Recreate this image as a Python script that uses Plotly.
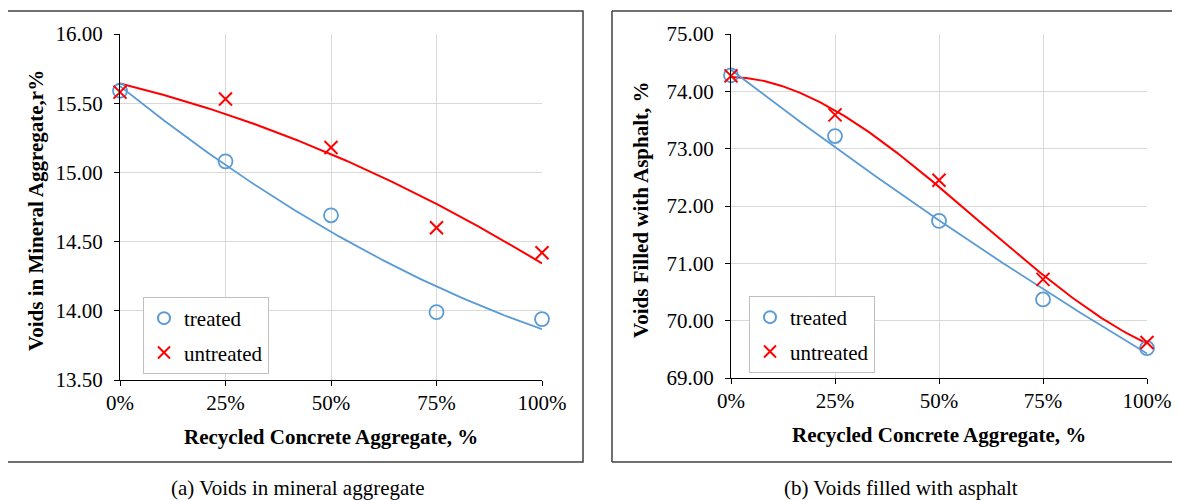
import numpy as np
import plotly.graph_objects as go

# ---------------- data ----------------
rca = [0.0, 0.25, 0.50, 0.75, 1.00]          # Recycled Concrete Aggregate fraction
rca_ticks = [0.0, 0.25, 0.50, 0.75, 1.00]

vma_treated = [15.59, 15.08, 14.69, 13.99, 13.94]
vma_untreated = [15.58, 15.53, 15.18, 14.60, 14.42]

vfa_treated = [74.28, 73.22, 71.74, 70.37, 69.52]
vfa_untreated = [74.27, 73.59, 72.45, 70.72, 69.62]

series_names = ["treated", "untreated"]
caption_a = "(a) Voids in mineral aggregate"
caption_b = "(b) Voids filled with asphalt"
xtitle = "Recycled Concrete Aggregate, %"
ytitle_a = "Voids in Mineral Aggregate,r%"
ytitle_b = "Voids Filled with Asphalt, %"

# ---------------- style ----------------
OFF = 8                      # page body margin of the browser
W, H = 1180 - OFF, 500 - OFF
BLUE = "#5B9BD5"
RED = "#FF0000"
FONT = "Liberation Serif, Times New Roman, serif"


def px(x):
    return (x - OFF) / W


def py(y):
    return 1 - (y - OFF) / H


xs = np.linspace(0, 1, 201)


def trend(y, order):
    c = np.polyfit(rca, y, order)
    return np.polyval(c, xs)


fig = go.Figure()

panels = [
    (vma_treated, vma_untreated, 2, 2, "x", "y", "legend"),
    (vfa_treated, vfa_untreated, 2, 3, "x2", "y2", "legend2"),
]
for tr, un, ot, ou, xa, ya, lg in panels:
    fig.add_trace(go.Scatter(x=xs, y=trend(un, ou), mode="lines", xaxis=xa, yaxis=ya,
                             line=dict(color=RED, width=2), showlegend=False, hoverinfo="skip"))
    fig.add_trace(go.Scatter(x=xs, y=trend(tr, ot), mode="lines", xaxis=xa, yaxis=ya,
                             line=dict(color=BLUE, width=1.8), showlegend=False, hoverinfo="skip"))
    fig.add_trace(go.Scatter(x=rca, y=tr, mode="markers", name=series_names[0], xaxis=xa, yaxis=ya,
                             legend=lg, legendgroup=lg + "a", cliponaxis=False,
                             marker=dict(symbol="circle-open", size=14, color=BLUE, line=dict(width=1.8))))
    fig.add_trace(go.Scatter(x=rca, y=un, mode="markers", name=series_names[1], xaxis=xa, yaxis=ya,
                             legend=lg, legendgroup=lg + "b", cliponaxis=False,
                             marker=dict(symbol="x-thin-open", size=13, color=RED, line=dict(width=2))))

axis_common = dict(
    showline=True, linecolor="black", linewidth=1,
    ticks="outside", ticklen=5, tickcolor="black",
    showgrid=True, gridcolor="#d9d9d9", gridwidth=1, zeroline=False,
    automargin=False,
    tickfont=dict(family=FONT, size=21, color="black"),
)

fig.update_layout(
    template="none",
    width=W, height=H,
    margin=dict(l=0, r=0, t=0, b=0, pad=0),
    paper_bgcolor="white", plot_bgcolor="white",
    font=dict(family=FONT, size=21, color="black"),
    xaxis=dict(domain=[px(120), px(542)], range=[0, 1], tickvals=rca_ticks, tickformat=".0%",
               anchor="y", ticklabelstandoff=-1, **axis_common),
    yaxis=dict(domain=[py(380), py(34)], range=[13.5, 16.0], dtick=0.5, tickformat=".2f",
               anchor="x", ticklabelstandoff=7, **axis_common),
    xaxis2=dict(domain=[px(731), px(1147)], range=[0, 1], tickvals=rca_ticks, tickformat=".0%",
                anchor="y2", ticklabelstandoff=-1, **axis_common),
    yaxis2=dict(domain=[py(378), py(34)], range=[69.0, 75.0], dtick=1.0, tickformat=".2f",
                anchor="x2", ticklabelstandoff=7, **axis_common),
    legend=dict(x=px(143), y=py(297), xanchor="left", yanchor="top",
                bordercolor="#bfbfbf", borderwidth=1, bgcolor="white", itemsizing="constant",
                tracegroupgap=4, font=dict(family=FONT, size=21, color="black")),
    legend2=dict(x=px(749), y=py(296), xanchor="left", yanchor="top",
                 bordercolor="#bfbfbf", borderwidth=1, bgcolor="white", itemsizing="constant",
                 tracegroupgap=4, font=dict(family=FONT, size=21, color="black")),
    showlegend=True,
)

# panel frames (the right-hand frame runs off the picture's right edge)
FRAME = dict(color="#404040", width=1.5)
fig.add_shape(type="rect", xref="paper", yref="paper",
              x0=px(7), x1=px(583), y0=py(462), y1=py(11), line=FRAME, layer="below")
for (x0, y0, x1, y1) in [(612, 11, 1180, 11), (612, 462, 1180, 462), (612, 11, 612, 462)]:
    fig.add_shape(type="line", xref="paper", yref="paper",
                  x0=px(x0), x1=px(x1), y0=py(y0), y1=py(y1), line=FRAME, layer="below")

ann = [
    dict(text=f"<b>{xtitle}</b>", x=px(331), y=py(437)),
    dict(text=f"<b>{xtitle}</b>", x=px(939), y=py(435)),
    dict(text=f"<b>{ytitle_a}</b>", x=px(36), y=py(211), textangle=-90),
    dict(text=f"<b>{ytitle_b}</b>", x=px(641), y=py(210), textangle=-90),
    dict(text=caption_a, x=px(297), y=py(488)),
    dict(text=caption_b, x=px(901), y=py(488)),
]
for a in ann:
    fig.add_annotation(xref="paper", yref="paper", xanchor="center", yanchor="middle",
                       showarrow=False, font=dict(family=FONT, size=21, color="black"), **a)

fig.write_html("out.html")
